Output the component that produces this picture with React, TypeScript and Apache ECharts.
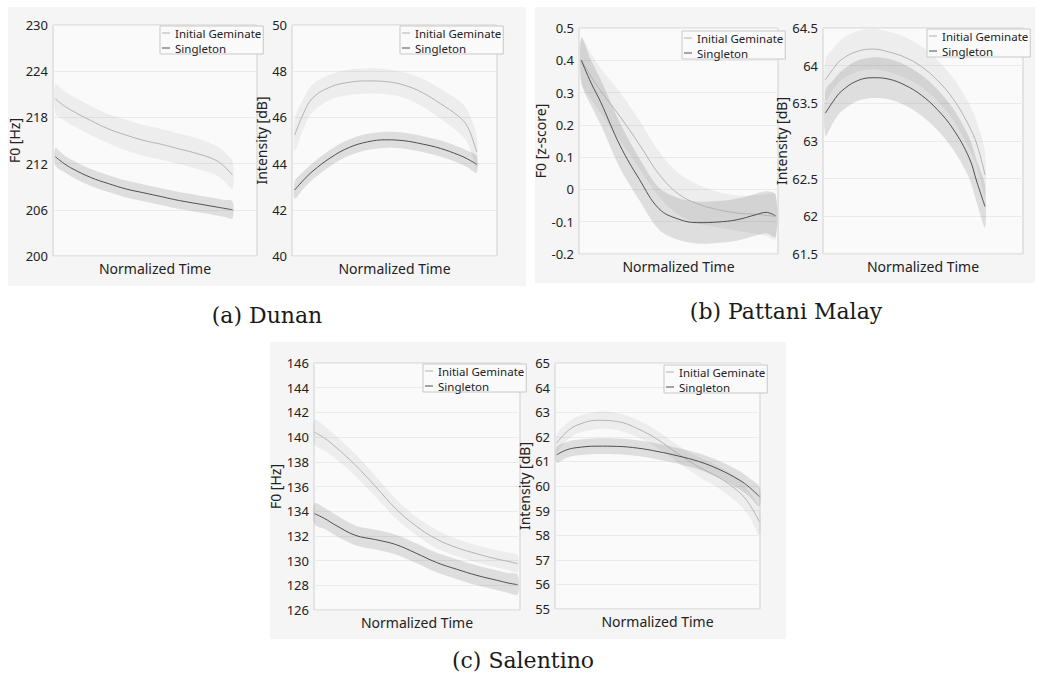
import React, { useEffect, useRef } from "react";
import * as echarts from "echarts";

// Normalized time sample points (shared by all panels)
const T = [0, 0.05, 0.1, 0.2, 0.3, 0.4, 0.5, 0.6, 0.7, 0.8, 0.9, 0.95, 1];

// (a) Dunan – F0 [Hz]
const dunanF0Gem = [220.4, 219.5, 218.8, 217.6, 216.5, 215.7, 215.0, 214.5, 213.9, 213.3, 212.5, 211.7, 210.5];
const dunanF0GemCI = [1.9, 1.9, 1.9, 1.9, 1.9, 2.0, 2.0, 2.0, 2.0, 2.0, 1.9, 1.9, 1.8];
const dunanF0Sing = [212.9, 212.0, 211.3, 210.2, 209.4, 208.7, 208.2, 207.7, 207.2, 206.8, 206.4, 206.2, 206.0];
const dunanF0SingCI = [1.1, 1.1, 1.1, 1.1, 1.1, 1.1, 1.1, 1.1, 1.1, 1.1, 1.1, 1.1, 1.1];

// (a) Dunan – Intensity [dB]
const dunanIntGem = [45.24, 46.2, 46.85, 47.33, 47.52, 47.58, 47.55, 47.4, 47.08, 46.6, 46.05, 45.6, 44.5];
const dunanIntGemCI = [0.7, 0.65, 0.6, 0.55, 0.55, 0.55, 0.55, 0.55, 0.6, 0.65, 0.7, 0.7, 0.7];
const dunanIntSing = [42.86, 43.3, 43.68, 44.27, 44.7, 44.94, 45.03, 44.99, 44.85, 44.66, 44.38, 44.2, 43.97];
const dunanIntSingCI = [0.38, 0.37, 0.36, 0.35, 0.35, 0.35, 0.35, 0.35, 0.35, 0.35, 0.35, 0.36, 0.37];

// (b) Pattani Malay – F0 [z-score]
const pattaniF0Gem = [0.4, 0.35, 0.305, 0.225, 0.138, 0.047, -0.014, -0.045, -0.062, -0.073, -0.077, -0.08, -0.084];
const pattaniF0GemCI = [0.07, 0.07, 0.07, 0.075, 0.075, 0.07, 0.065, 0.06, 0.055, 0.055, 0.06, 0.065, 0.07];
const pattaniF0Sing = [0.4, 0.33, 0.27, 0.135, 0.03, -0.06, -0.092, -0.103, -0.101, -0.094, -0.078, -0.071, -0.082];
const pattaniF0SingCI = [0.07, 0.07, 0.07, 0.07, 0.065, 0.065, 0.065, 0.065, 0.065, 0.065, 0.065, 0.065, 0.065];

// (b) Pattani Malay – Intensity [dB]
const pattaniIntGem = [63.81, 63.96, 64.08, 64.19, 64.22, 64.18, 64.11, 63.99, 63.81, 63.56, 63.2, 62.95, 62.55];
const pattaniIntGemCI = [0.27, 0.27, 0.27, 0.27, 0.27, 0.27, 0.27, 0.27, 0.27, 0.28, 0.3, 0.3, 0.3];
const pattaniIntSing = [63.37, 63.53, 63.66, 63.8, 63.84, 63.82, 63.74, 63.61, 63.42, 63.16, 62.78, 62.45, 62.13];
const pattaniIntSingCI = [0.3, 0.28, 0.27, 0.27, 0.27, 0.27, 0.27, 0.27, 0.27, 0.27, 0.27, 0.28, 0.28];

// (c) Salentino – F0 [Hz]
const salentinoF0Gem = [140.4, 139.9, 139.25, 137.75, 136.0, 134.2, 132.8, 131.75, 131.05, 130.55, 130.12, 129.95, 129.75];
const salentinoF0GemCI = [1.0, 1.0, 0.95, 0.9, 0.85, 0.8, 0.75, 0.75, 0.7, 0.7, 0.7, 0.7, 0.7];
const salentinoF0Sing = [133.8, 133.4, 132.9, 132.05, 131.7, 131.3, 130.6, 129.85, 129.3, 128.8, 128.4, 128.2, 128.05];
const salentinoF0SingCI = [0.85, 0.85, 0.85, 0.8, 0.8, 0.8, 0.8, 0.8, 0.8, 0.8, 0.8, 0.8, 0.8];

// (c) Salentino – Intensity [dB]
const salentinoIntGem = [61.74, 62.2, 62.47, 62.67, 62.62, 62.33, 61.88, 61.3, 60.78, 60.35, 59.75, 59.27, 58.55];
const salentinoIntGemCI = [0.35, 0.35, 0.35, 0.35, 0.35, 0.35, 0.35, 0.35, 0.4, 0.45, 0.5, 0.5, 0.55];
const salentinoIntSing = [61.27, 61.47, 61.56, 61.62, 61.61, 61.54, 61.4, 61.22, 61.0, 60.68, 60.25, 59.95, 59.57];
const salentinoIntSingCI = [0.32, 0.32, 0.32, 0.32, 0.32, 0.32, 0.32, 0.32, 0.33, 0.35, 0.37, 0.38, 0.4];

const SERIES_NAMES = ["Initial Geminate", "Singleton"];
const X_NAME = "Normalized Time";
const CAPTIONS = ["(a) Dunan", "(b) Pattani Malay", "(c) Salentino"];

const GEM_LINE = "#b3b3b3";
const SING_LINE = "#505050";
const GEM_FILL = "rgba(0,0,0,0.05)";
const SING_FILL = "rgba(0,0,0,0.11)";
const FONT = '"Noto Sans", "Open Sans", sans-serif';

type Panel = {
  left: number; top: number; width: number; height: number;
  xMin: number; xMax: number;
  yMin: number; yMax: number; yInterval: number;
  yName: string; nameGap: number;
  legendLeft: number; legendTop: number;
  gem: number[]; gemCI: number[]; sing: number[]; singCI: number[];
};

const panels: Panel[] = [
  { left: 53, top: 25, width: 204, height: 231, xMin: -0.013, xMax: 1.138, yMin: 200, yMax: 230, yInterval: 6,
    yName: "F0 [Hz]", nameGap: 27, legendLeft: 160, legendTop: 26,
    gem: dunanF0Gem, gemCI: dunanF0GemCI, sing: dunanF0Sing, singCI: dunanF0SingCI },
  { left: 292, top: 25, width: 205, height: 231, xMin: -0.015, xMax: 1.112, yMin: 40, yMax: 50, yInterval: 2,
    yName: "Intensity [dB]", nameGap: 24, legendLeft: 400, legendTop: 26,
    gem: dunanIntGem, gemCI: dunanIntGemCI, sing: dunanIntSing, singCI: dunanIntSingCI },
  { left: 579, top: 28, width: 199, height: 226, xMin: -0.012, xMax: 1.012, yMin: -0.2, yMax: 0.5, yInterval: 0.1,
    yName: "F0 [z-score]", nameGap: 25, legendLeft: 682, legendTop: 31,
    gem: pattaniF0Gem, gemCI: pattaniF0GemCI, sing: pattaniF0Sing, singCI: pattaniF0SingCI },
  { left: 823, top: 28, width: 200, height: 226, xMin: -0.015, xMax: 1.238, yMin: 61.5, yMax: 64.5, yInterval: 0.5,
    yName: "Intensity [dB]", nameGap: 30, legendLeft: 927, legendTop: 29,
    gem: pattaniIntGem, gemCI: pattaniIntGemCI, sing: pattaniIntSing, singCI: pattaniIntSingCI },
  { left: 314, top: 363, width: 206, height: 247, xMin: -0.003, xMax: 1.012, yMin: 126, yMax: 146, yInterval: 2,
    yName: "F0 [Hz]", nameGap: 25, legendLeft: 423, legendTop: 364,
    gem: salentinoF0Gem, gemCI: salentinoF0GemCI, sing: salentinoF0Sing, singCI: salentinoF0SingCI },
  { left: 555, top: 363, width: 205, height: 246, xMin: -0.008, xMax: 1.003, yMin: 55, yMax: 65, yInterval: 1,
    yName: "Intensity [dB]", nameGap: 19, legendLeft: 664, legendTop: 365,
    gem: salentinoIntGem, gemCI: salentinoIntGemCI, sing: salentinoIntSing, singCI: salentinoIntSingCI },
];

const bgRects = [
  { x: 8, y: 7, w: 518, h: 279 },
  { x: 535, y: 7, w: 500, h: 276 },
  { x: 270, y: 342, w: 516, h: 297 },
];
const captionPos = [
  { x: 267, y: 315 },
  { x: 786, y: 311 },
  { x: 523, y: 660 },
];

function bandSeries(i: number, mean: number[], ci: number[], fill: string, name: string) {
  const rows = T.map((t, k) => [t, mean[k] - ci[k], mean[k] + ci[k]]);
  return {
    type: "custom",
    name,
    xAxisIndex: i,
    yAxisIndex: i,
    silent: true,
    z: 2,
    encode: { x: 0, y: [1, 2] },
    data: rows,
    renderItem: (params: any, api: any) => {
      if (params.dataIndex !== 0) return null;
      const upper = rows.map((r) => api.coord([r[0], r[2]]));
      const lower = rows.map((r) => api.coord([r[0], r[1]])).reverse();
      return {
        type: "polygon",
        shape: { points: upper.concat(lower), smooth: 0.3 },
        style: { fill, stroke: "none" },
        silent: true,
      };
    },
  };
}

export default function App() {
  const ref = useRef<HTMLDivElement>(null);
  useEffect(() => {
    const chart = echarts.init(ref.current!, null, { renderer: "svg" });
    const grid: any[] = [];
    const xAxis: any[] = [];
    const yAxis: any[] = [];
    const series: any[] = [];
    const legend: any[] = [];

    const line = (m: number[]) => m.map((v, k) => [T[k], v]);

    panels.forEach((p, i) => {
      grid.push({
        left: p.left, top: p.top, width: p.width, height: p.height,
        show: true, backgroundColor: "#fafafa", borderColor: "#d0d0d0", borderWidth: 1,
      });
      xAxis.push({
        type: "value", gridIndex: i, min: p.xMin, max: p.xMax,
        axisLabel: { show: false }, axisTick: { show: false }, axisLine: { show: false }, splitLine: { show: false },
        name: X_NAME, nameLocation: "middle", nameGap: 5,
        nameTextStyle: { fontFamily: FONT, fontSize: 14, color: "#222" },
      });
      yAxis.push({
        type: "value", gridIndex: i, min: p.yMin, max: p.yMax, interval: p.yInterval,
        axisLine: { show: false }, axisTick: { show: false },
        splitLine: { show: true, lineStyle: { color: "#ebebeb", width: 1 } },
        axisLabel: { fontFamily: FONT, fontSize: 13, color: "#222", margin: 5 },
        name: p.yName, nameLocation: "middle", nameGap: p.nameGap,
        nameTextStyle: { fontFamily: FONT, fontSize: 14, color: "#222" },
      });
      series.push(bandSeries(i, p.gem, p.gemCI, GEM_FILL, "gemBand" + i));
      series.push(bandSeries(i, p.sing, p.singCI, SING_FILL, "singBand" + i));
      const common = {
        type: "line", xAxisIndex: i, yAxisIndex: i, smooth: 0.4, symbol: "none", silent: true, z: 5,
      };
      series.push({ ...common, name: SERIES_NAMES[0], data: line(p.gem),
        itemStyle: { color: GEM_LINE }, lineStyle: { color: GEM_LINE, width: 1 } });
      series.push({ ...common, name: SERIES_NAMES[1], data: line(p.sing),
        itemStyle: { color: SING_LINE }, lineStyle: { color: SING_LINE, width: 1 } });
      legend.push({
        left: p.legendLeft, top: p.legendTop, orient: "vertical", data: SERIES_NAMES,
        icon: "rect", itemWidth: 8, itemHeight: 1, itemGap: 3,
        backgroundColor: "#fafafa", borderColor: "#c8c8c8", borderWidth: 1, borderRadius: 0,
        padding: [1, 2, 0, 2], selectedMode: false,
        textStyle: { fontFamily: FONT, fontSize: 11.5, color: "#222", lineHeight: 12 },
      });
    });

    const graphic: any[] = [];
    bgRects.forEach((r) => {
      graphic.push({ type: "rect", z: -10, silent: true, shape: { x: r.x, y: r.y, width: r.w, height: r.h },
        style: { fill: "#f5f5f5" } });
    });
    CAPTIONS.forEach((c, i) => {
      graphic.push({ type: "text", x: captionPos[i].x, y: captionPos[i].y, silent: true,
        style: { text: c, font: '22px "DejaVu Serif", serif', fill: "#1a1a1a", align: "center", verticalAlign: "middle" } });
    });

    chart.setOption({
      animation: false,
      backgroundColor: "#ffffff",
      grid, xAxis, yAxis, series, legend, graphic,
    });
    return () => chart.dispose();
  }, []);
  return <div ref={ref} style={{ position: "fixed", left: 0, top: 0, width: 1040, height: 681 }} />;
}
